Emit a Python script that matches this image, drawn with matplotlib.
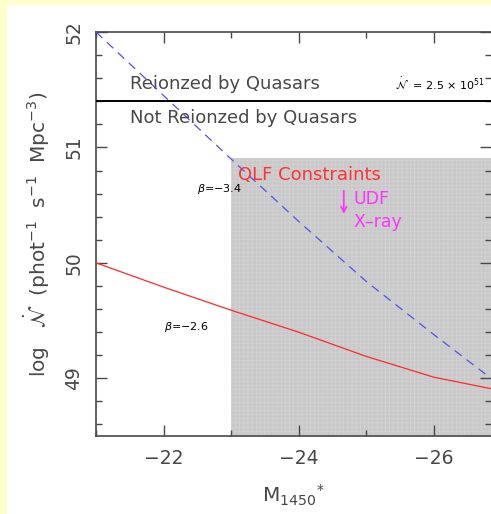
import matplotlib
matplotlib.use("Agg")
import matplotlib.pyplot as plt
from matplotlib.patches import Rectangle

# Data
mag = [-21.0, -22.0, -23.0, -24.0, -25.0, -26.0, -26.85]
beta26 = [50.0, 49.79, 49.59, 49.40, 49.19, 49.01, 48.91]
beta34 = [52.0, 51.45, 50.90, 50.36, 49.84, 49.38, 49.0]
n_crit = 51.4  # log(2.5e51)
qlf_mag_min = -23.0
qlf_top = 50.91
xticks = [-22, -24, -26]
yticks = [49, 50, 51, 52]

plt.rcParams["hatch.linewidth"] = 0.4

fig = plt.figure(figsize=(4.91, 5.14), dpi=100)
fig.patch.set_facecolor("#ffffcc")
fig.patches.append(Rectangle((7 / 491, 0), 1, (514 - 5) / 514, transform=fig.transFigure,
                             facecolor="white", edgecolor="none", zorder=-10))

ax = fig.add_axes([96 / 491, (514 - 436) / 514, (491 - 96) / 491, (436 - 32) / 514])
ax.set_facecolor("white")
ax.set_xlim(-21, -26.85)
ax.set_ylim(48.5, 52)

# shaded QLF constraint region
ax.add_patch(Rectangle((qlf_mag_min, 48.5), -26.85 - qlf_mag_min, qlf_top - 48.5,
                       facecolor="#c9c9c9", edgecolor="#d4d4d4", lw=0, hatch="++++",
                       zorder=1))

ax.plot(mag, beta26, color="#ff2a2a", lw=0.9, zorder=3)
ax.plot(mag, beta34, color="#5050f0", lw=0.9, ls=(0, (7, 5)), zorder=3)
ax.axhline(n_crit, color="black", lw=1.4, zorder=3)

gray = "#484848"
ax.text(-21.5, 51.55, "Reionzed by Quasars", fontsize=13, color=gray, va="center")
ax.text(-21.5, 51.255, "Not Reionzed by Quasars", fontsize=13, color=gray, va="center")
ax.text(-25.43, 51.55, r"$\dot{\mathcal{N}}$  = 2.5 $\times$ 10$^{51}$", fontsize=8,
        color="black", va="center")
ax.text(-23.1, 50.76, "QLF Constraints", fontsize=13, color="#ff3333", va="center")
ax.annotate("", xy=(-24.67, 50.40), xytext=(-24.67, 50.65),
            arrowprops=dict(arrowstyle="->", color="#ff33ff", lw=1.2))
ax.text(-24.82, 50.55, "UDF", fontsize=12.5, color="#ff33ff", va="center")
ax.text(-24.82, 50.355, "X\u2013ray", fontsize=12.5, color="#ff33ff", va="center")
ax.text(-22.5, 50.64, r"$\beta$=$-$3.4", fontsize=8, color="black", va="center")
ax.text(-22.0, 49.44, r"$\beta$=$-$2.6", fontsize=8, color="black", va="center")

ax.set_xticks(xticks)
ax.set_xticklabels([f"\u2212{abs(t)}" for t in xticks])
ax.set_xticks([-21, -23, -25], minor=True)
ax.set_yticks(yticks)
ax.set_yticks([48.6, 48.8, 49.2, 49.4, 49.6, 49.8, 50.2, 50.4, 50.6, 50.8,
               51.2, 51.4, 51.6, 51.8], minor=True)
ax.tick_params(which="both", direction="in", top=True, right=True, color=gray,
               labelcolor=gray, labelsize=13.5, width=1.0)
ax.tick_params(which="major", length=8, pad=9)
ax.tick_params(which="minor", length=4)
for lab in ax.get_yticklabels():
    lab.set_rotation(90)
    lab.set_va("center")
for side in ["left", "top", "bottom"]:
    ax.spines[side].set_color(gray)
    ax.spines[side].set_linewidth(1.2)
ax.spines["right"].set_visible(False)

ax.set_xlabel(r"M$_{1450}$$^{*}$", fontsize=14.5, color=gray, labelpad=11)
ax.set_ylabel(r"log   $\dot{\mathcal{N}}$  (phot$^{-1}$  s$^{-1}$  Mpc$^{-3}$)", fontsize=14.5,
              color=gray, labelpad=9)

fig.savefig("out.png", dpi=100, facecolor=fig.get_facecolor())
